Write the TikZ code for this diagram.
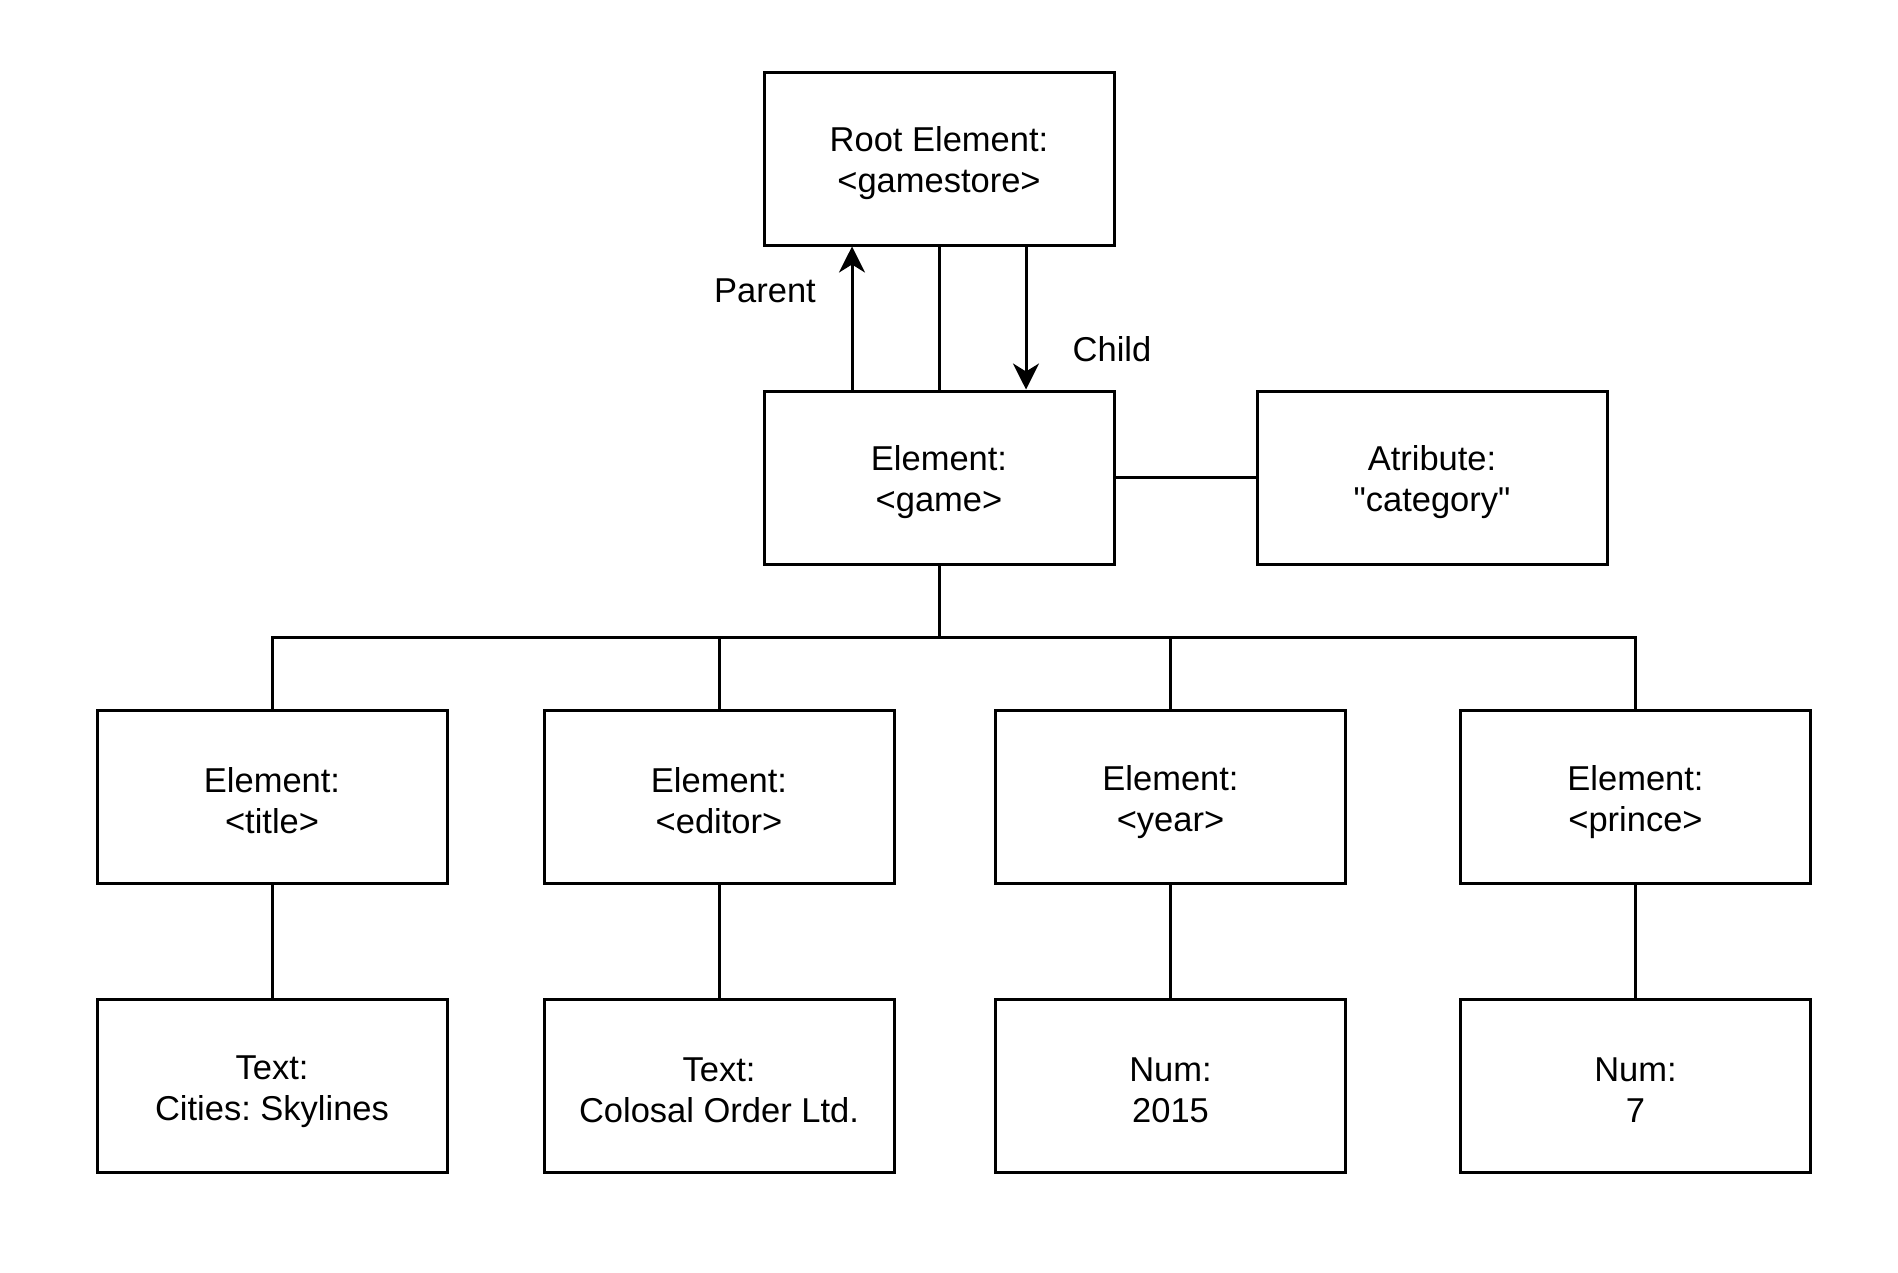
\documentclass[tikz,border=0pt]{standalone}
\usepackage{fontspec}
\setmainfont{Liberation Sans}
\usetikzlibrary{arrows.meta}
\newcommand\lnstrut{\rule[-3pt]{0pt}{38pt}}
\newcommand\twoline[2]{\lnstrut#1\\\lnstrut#2}
\begin{document}
\frenchspacing
\begin{tikzpicture}[x=1pt,y=-1pt,
  box/.style={draw=black,line width=3pt,minimum width=350pt,minimum height=173pt,
    inner sep=0pt,align=center,font=\fontsize{34.5}{41}\selectfont},
  lbl/.style={inner sep=0pt,font=\fontsize{34.5}{41}\selectfont},
  conn/.style={draw=black,line width=3pt},
  arr/.style={conn,-{Stealth[length=26pt,width=26pt,inset=8pt]}}]
\useasboundingbox[fill=white] (0,0) rectangle (1898,1272);
\node[box] (root) at (939,158.5) {\twoline{Root Element:}{<gamestore>}};
\node[box] (game) at (939,477.5) {\twoline{Element:}{<game>}};
\node[box] (attr) at (1432,477.5) {\twoline{Atribute:}{\textquotedbl category\textquotedbl}};
\node[box] (title) at (272,797) {\twoline{Element:}{<title>}};
\node[box] (editor) at (719,797) {\twoline{Element:}{<editor>}};
\node[box] (year) at (1170.5,797) {\twoline{Element:}{<year>}};
\node[box] (prince) at (1635.5,797) {\twoline{Element:}{<prince>}};
\node[box] (t1) at (272,1086) {\twoline{Text:}{Cities: Skylines}};
\node[box] (t2) at (719,1086) {\twoline{Text:}{Colosal Order Ltd.}};
\node[box] (t3) at (1170.5,1086) {\twoline{Num:}{2015}};
\node[box] (t4) at (1635.5,1086) {\twoline{Num:}{7}};
\node[lbl] (parent) at (765,291) {Parent};
\node[lbl] (child) at (1112,349) {Child};
\coordinate (bus) at (939,637);
\draw[arr] ([xshift=-87pt]game.north) -- ([xshift=-87pt]root.south);
\draw[arr] ([xshift=87pt]root.south) -- ([xshift=87pt]game.north);
\draw[conn] (root.south) -- (game.north);
\draw[conn] (game.east) -- (attr.west);
\draw[conn] (game.south) -- (bus) -| (title.north);
\draw[conn] (bus) -| (editor.north);
\draw[conn] (bus) -| (year.north);
\draw[conn] (bus) -| (prince.north);
\draw[conn] (title.south) -- (t1.north);
\draw[conn] (editor.south) -- (t2.north);
\draw[conn] (year.south) -- (t3.north);
\draw[conn] (prince.south) -- (t4.north);
\end{tikzpicture}
\end{document}
